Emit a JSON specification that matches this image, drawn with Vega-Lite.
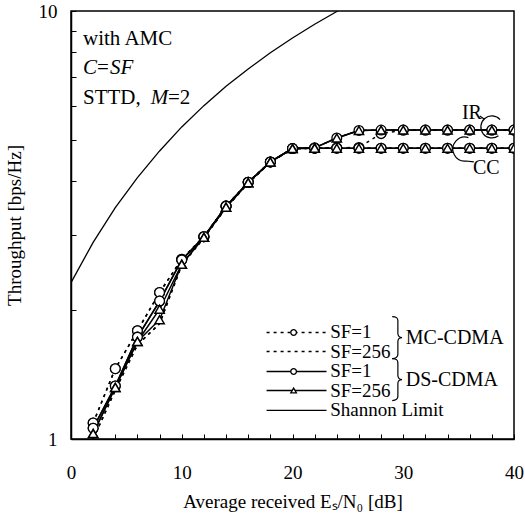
{
  "$schema": "https://vega.github.io/schema/vega-lite/v6.json",
  "width": 443,
  "height": 428,
  "autosize": {"type": "none"},
  "padding": {"left": 71, "top": 11, "right": 11, "bottom": 80},
  "background": "white",
  "config": {
    "view": {"stroke": "black", "strokeWidth": 1.5},
    "font": "Liberation Serif",
    "axis": {
      "grid": false,
      "domainColor": "black",
      "domainWidth": 1.5,
      "tickColor": "black",
      "tickWidth": 1,
      "labelColor": "black",
      "labelFont": "Liberation Serif",
      "labelFontSize": 19,
      "titleColor": "black",
      "titleFont": "Liberation Serif",
      "titleFontSize": 19,
      "titleFontWeight": "normal"
    }
  },
  "datasets": {
    "curves": [
      {"g": "Shannon", "x": 0, "y": 2.32}, {"g": "Shannon", "x": 2, "y": 2.88}, {"g": "Shannon", "x": 4, "y": 3.47},
      {"g": "Shannon", "x": 6, "y": 4.08}, {"g": "Shannon", "x": 8, "y": 4.71}, {"g": "Shannon", "x": 10, "y": 5.36},
      {"g": "Shannon", "x": 12, "y": 6.01}, {"g": "Shannon", "x": 14, "y": 6.67}, {"g": "Shannon", "x": 16, "y": 7.32},
      {"g": "Shannon", "x": 18, "y": 7.99}, {"g": "Shannon", "x": 20, "y": 8.65}, {"g": "Shannon", "x": 22, "y": 9.31},
      {"g": "Shannon", "x": 24, "y": 9.97}, {"g": "Shannon", "x": 26, "y": 10.64},

      {"g": "MC1-IR", "x": 2, "y": 1.09}, {"g": "MC1-IR", "x": 4, "y": 1.46}, {"g": "MC1-IR", "x": 6, "y": 1.79}, {"g": "MC1-IR", "x": 8, "y": 2.2},
      {"g": "MC1-IR", "x": 10, "y": 2.63}, {"g": "MC1-IR", "x": 12, "y": 2.97}, {"g": "MC1-IR", "x": 14, "y": 3.5}, {"g": "MC1-IR", "x": 16, "y": 3.98},
      {"g": "MC1-IR", "x": 18, "y": 4.44}, {"g": "MC1-IR", "x": 20, "y": 4.77}, {"g": "MC1-IR", "x": 22, "y": 4.78}, {"g": "MC1-IR", "x": 24, "y": 4.79},
      {"g": "MC1-IR", "x": 26, "y": 4.8}, {"g": "MC1-IR", "x": 28, "y": 5.17}, {"g": "MC1-IR", "x": 30, "y": 5.27}, {"g": "MC1-IR", "x": 32, "y": 5.27},
      {"g": "MC1-IR", "x": 34, "y": 5.27}, {"g": "MC1-IR", "x": 36, "y": 5.27}, {"g": "MC1-IR", "x": 38, "y": 5.27}, {"g": "MC1-IR", "x": 40, "y": 5.27},

      {"g": "MC1-CC", "x": 2, "y": 1.09}, {"g": "MC1-CC", "x": 4, "y": 1.46}, {"g": "MC1-CC", "x": 6, "y": 1.79}, {"g": "MC1-CC", "x": 8, "y": 2.2},
      {"g": "MC1-CC", "x": 10, "y": 2.63}, {"g": "MC1-CC", "x": 12, "y": 2.97}, {"g": "MC1-CC", "x": 14, "y": 3.5}, {"g": "MC1-CC", "x": 16, "y": 3.98},
      {"g": "MC1-CC", "x": 18, "y": 4.44}, {"g": "MC1-CC", "x": 20, "y": 4.77}, {"g": "MC1-CC", "x": 22, "y": 4.78}, {"g": "MC1-CC", "x": 24, "y": 4.78},
      {"g": "MC1-CC", "x": 26, "y": 4.78}, {"g": "MC1-CC", "x": 28, "y": 4.78}, {"g": "MC1-CC", "x": 30, "y": 4.78}, {"g": "MC1-CC", "x": 32, "y": 4.78},
      {"g": "MC1-CC", "x": 34, "y": 4.78}, {"g": "MC1-CC", "x": 36, "y": 4.78}, {"g": "MC1-CC", "x": 38, "y": 4.78}, {"g": "MC1-CC", "x": 40, "y": 4.78},

      {"g": "MC256-IR", "x": 2, "y": 1.0}, {"g": "MC256-IR", "x": 4, "y": 1.3}, {"g": "MC256-IR", "x": 6, "y": 1.66}, {"g": "MC256-IR", "x": 8, "y": 1.86},
      {"g": "MC256-IR", "x": 10, "y": 2.55}, {"g": "MC256-IR", "x": 12, "y": 2.95}, {"g": "MC256-IR", "x": 14, "y": 3.47}, {"g": "MC256-IR", "x": 16, "y": 3.96},
      {"g": "MC256-IR", "x": 18, "y": 4.43}, {"g": "MC256-IR", "x": 20, "y": 4.77}, {"g": "MC256-IR", "x": 22, "y": 4.79}, {"g": "MC256-IR", "x": 24, "y": 5.05},
      {"g": "MC256-IR", "x": 26, "y": 5.26}, {"g": "MC256-IR", "x": 28, "y": 5.27}, {"g": "MC256-IR", "x": 30, "y": 5.27}, {"g": "MC256-IR", "x": 32, "y": 5.27},
      {"g": "MC256-IR", "x": 34, "y": 5.27}, {"g": "MC256-IR", "x": 36, "y": 5.27}, {"g": "MC256-IR", "x": 38, "y": 5.27}, {"g": "MC256-IR", "x": 40, "y": 5.27},

      {"g": "MC256-CC", "x": 2, "y": 1.0}, {"g": "MC256-CC", "x": 4, "y": 1.3}, {"g": "MC256-CC", "x": 6, "y": 1.66}, {"g": "MC256-CC", "x": 8, "y": 1.86},
      {"g": "MC256-CC", "x": 10, "y": 2.55}, {"g": "MC256-CC", "x": 12, "y": 2.95}, {"g": "MC256-CC", "x": 14, "y": 3.47}, {"g": "MC256-CC", "x": 16, "y": 3.96},
      {"g": "MC256-CC", "x": 18, "y": 4.43}, {"g": "MC256-CC", "x": 20, "y": 4.77}, {"g": "MC256-CC", "x": 22, "y": 4.78}, {"g": "MC256-CC", "x": 24, "y": 4.78},
      {"g": "MC256-CC", "x": 26, "y": 4.78}, {"g": "MC256-CC", "x": 28, "y": 4.78}, {"g": "MC256-CC", "x": 30, "y": 4.78}, {"g": "MC256-CC", "x": 32, "y": 4.78},
      {"g": "MC256-CC", "x": 34, "y": 4.78}, {"g": "MC256-CC", "x": 36, "y": 4.78}, {"g": "MC256-CC", "x": 38, "y": 4.78}, {"g": "MC256-CC", "x": 40, "y": 4.78},

      {"g": "DS1-IR", "x": 2, "y": 1.06}, {"g": "DS1-IR", "x": 4, "y": 1.33}, {"g": "DS1-IR", "x": 6, "y": 1.73}, {"g": "DS1-IR", "x": 8, "y": 2.1},
      {"g": "DS1-IR", "x": 10, "y": 2.62}, {"g": "DS1-IR", "x": 12, "y": 2.97}, {"g": "DS1-IR", "x": 14, "y": 3.5}, {"g": "DS1-IR", "x": 16, "y": 3.98},
      {"g": "DS1-IR", "x": 18, "y": 4.44}, {"g": "DS1-IR", "x": 20, "y": 4.77}, {"g": "DS1-IR", "x": 22, "y": 4.79}, {"g": "DS1-IR", "x": 24, "y": 5.05},
      {"g": "DS1-IR", "x": 26, "y": 5.26}, {"g": "DS1-IR", "x": 28, "y": 5.27}, {"g": "DS1-IR", "x": 30, "y": 5.27}, {"g": "DS1-IR", "x": 32, "y": 5.27},
      {"g": "DS1-IR", "x": 34, "y": 5.27}, {"g": "DS1-IR", "x": 36, "y": 5.27}, {"g": "DS1-IR", "x": 38, "y": 5.27}, {"g": "DS1-IR", "x": 40, "y": 5.27},

      {"g": "DS1-CC", "x": 2, "y": 1.06}, {"g": "DS1-CC", "x": 4, "y": 1.33}, {"g": "DS1-CC", "x": 6, "y": 1.73}, {"g": "DS1-CC", "x": 8, "y": 2.1},
      {"g": "DS1-CC", "x": 10, "y": 2.62}, {"g": "DS1-CC", "x": 12, "y": 2.97}, {"g": "DS1-CC", "x": 14, "y": 3.5}, {"g": "DS1-CC", "x": 16, "y": 3.98},
      {"g": "DS1-CC", "x": 18, "y": 4.44}, {"g": "DS1-CC", "x": 20, "y": 4.77}, {"g": "DS1-CC", "x": 22, "y": 4.78}, {"g": "DS1-CC", "x": 24, "y": 4.78},
      {"g": "DS1-CC", "x": 26, "y": 4.78}, {"g": "DS1-CC", "x": 28, "y": 4.78}, {"g": "DS1-CC", "x": 30, "y": 4.78}, {"g": "DS1-CC", "x": 32, "y": 4.78},
      {"g": "DS1-CC", "x": 34, "y": 4.78}, {"g": "DS1-CC", "x": 36, "y": 4.78}, {"g": "DS1-CC", "x": 38, "y": 4.78}, {"g": "DS1-CC", "x": 40, "y": 4.78},

      {"g": "DS256-IR", "x": 2, "y": 1.03}, {"g": "DS256-IR", "x": 4, "y": 1.32}, {"g": "DS256-IR", "x": 6, "y": 1.69}, {"g": "DS256-IR", "x": 8, "y": 2.01},
      {"g": "DS256-IR", "x": 10, "y": 2.56}, {"g": "DS256-IR", "x": 12, "y": 2.96}, {"g": "DS256-IR", "x": 14, "y": 3.48}, {"g": "DS256-IR", "x": 16, "y": 3.97},
      {"g": "DS256-IR", "x": 18, "y": 4.44}, {"g": "DS256-IR", "x": 20, "y": 4.77}, {"g": "DS256-IR", "x": 22, "y": 4.79}, {"g": "DS256-IR", "x": 24, "y": 5.05},
      {"g": "DS256-IR", "x": 26, "y": 5.26}, {"g": "DS256-IR", "x": 28, "y": 5.27}, {"g": "DS256-IR", "x": 30, "y": 5.27}, {"g": "DS256-IR", "x": 32, "y": 5.27},
      {"g": "DS256-IR", "x": 34, "y": 5.27}, {"g": "DS256-IR", "x": 36, "y": 5.27}, {"g": "DS256-IR", "x": 38, "y": 5.27}, {"g": "DS256-IR", "x": 40, "y": 5.27},

      {"g": "DS256-CC", "x": 2, "y": 1.03}, {"g": "DS256-CC", "x": 4, "y": 1.32}, {"g": "DS256-CC", "x": 6, "y": 1.69}, {"g": "DS256-CC", "x": 8, "y": 1.9},
      {"g": "DS256-CC", "x": 10, "y": 2.56}, {"g": "DS256-CC", "x": 12, "y": 2.96}, {"g": "DS256-CC", "x": 14, "y": 3.48}, {"g": "DS256-CC", "x": 16, "y": 3.97},
      {"g": "DS256-CC", "x": 18, "y": 4.44}, {"g": "DS256-CC", "x": 20, "y": 4.77}, {"g": "DS256-CC", "x": 22, "y": 4.78}, {"g": "DS256-CC", "x": 24, "y": 4.78},
      {"g": "DS256-CC", "x": 26, "y": 4.78}, {"g": "DS256-CC", "x": 28, "y": 4.78}, {"g": "DS256-CC", "x": 30, "y": 4.78}, {"g": "DS256-CC", "x": 32, "y": 4.78},
      {"g": "DS256-CC", "x": 34, "y": 4.78}, {"g": "DS256-CC", "x": 36, "y": 4.78}, {"g": "DS256-CC", "x": 38, "y": 4.78}, {"g": "DS256-CC", "x": 40, "y": 4.78}
    ],
    "legend": [
      {"k": "MC1", "x": 17.66, "x2": 23.07, "xm": 20.1, "xt": 23.4, "y": 1.774, "t": "SF=1"},
      {"k": "MC256", "x": 17.66, "x2": 23.07, "xm": 20.1, "xt": 23.4, "y": 1.601, "t": "SF=256"},
      {"k": "DS1", "x": 17.66, "x2": 23.07, "xm": 20.1, "xt": 23.4, "y": 1.438, "t": "SF=1"},
      {"k": "DS256", "x": 17.66, "x2": 23.07, "xm": 20.1, "xt": 23.4, "y": 1.298, "t": "SF=256"},
      {"k": "Shannon", "x": 17.66, "x2": 23.07, "xm": 20.1, "xt": 23.4, "y": 1.166, "t": "Shannon Limit"}
    ],
    "braces": [
      {"x": 29.42, "y": 1.726, "xt": 30.23, "t": "MC-CDMA"},
      {"x": 29.42, "y": 1.377, "xt": 30.23, "t": "DS-CDMA"}
    ],
    "notes": [
      {"x": 1.08, "y": 8.35, "t": "with AMC", "it": false},
      {"x": 1.08, "y": 7.14, "t": "C", "it": true},
      {"x": 2.35, "y": 7.14, "t": "=", "it": false},
      {"x": 3.52, "y": 7.14, "t": "SF", "it": true},
      {"x": 1.08, "y": 6.05, "t": "STTD,", "it": false},
      {"x": 7.2, "y": 6.05, "t": "M", "it": true},
      {"x": 8.75, "y": 6.05, "t": "=2", "it": false}
    ],
    "labels": [
      {"x": 36.2, "y": 5.79, "t": "IR"},
      {"x": 37.5, "y": 4.3, "t": "CC"}
    ],
    "arcs": [
      {"k": "IR", "x": 38.0, "y": 5.36},
      {"k": "CC", "x": 35.56, "y": 4.76}
    ]
  },
  "encoding": {
    "x": {
      "field": "x", "type": "quantitative",
      "scale": {"domain": [0, 40], "nice": false, "zero": false},
      "axis": {
        "values": [0, 2, 4, 6, 8, 10, 12, 14, 16, 18, 20, 22, 24, 26, 28, 30, 32, 34, 36, 38, 40],
        "labelExpr": "datum.value % 10 === 0 ? format(datum.value, 'd') : ''",
        "tickSize": -5,
        "labelPadding": 29,
        "labelFlush": false,
        "labelOverlap": false,
        "title": "Average received Eₛ/N₀  [dB]",
        "titlePadding": 10
      }
    },
    "y": {
      "field": "y", "type": "quantitative",
      "scale": {"type": "log", "domain": [1, 10], "nice": false},
      "axis": {
        "values": [1, 2, 3, 4, 5, 6, 7, 8, 9, 10],
        "labelExpr": "datum.value == 1 || datum.value == 10 ? format(datum.value, 'd') : ''",
        "tickSize": -5,
        "labelPadding": 19,
        "labelOverlap": false,
        "title": "Throughput [bps/Hz]",
        "titlePadding": 14
      }
    }
  },
  "layer": [
    {
      "data": {"name": "curves"},
      "transform": [{"filter": "datum.g == 'Shannon'"}],
      "mark": {"type": "line", "stroke": "black", "strokeWidth": 1.3, "clip": true},
      "encoding": {"detail": {"field": "g"}}
    },
    {
      "data": {"name": "curves"},
      "transform": [{"filter": "indexof(datum.g, 'MC') == 0"}],
      "mark": {"type": "line", "stroke": "black", "strokeWidth": 1.5, "strokeDash": [3, 4], "clip": true},
      "encoding": {"detail": {"field": "g"}}
    },
    {
      "data": {"name": "curves"},
      "transform": [{"filter": "indexof(datum.g, 'DS') == 0"}],
      "mark": {"type": "line", "stroke": "black", "strokeWidth": 1.5, "clip": true},
      "encoding": {"detail": {"field": "g"}}
    },
    {
      "data": {"name": "curves"},
      "transform": [{"filter": "indexof(datum.g, 'MC1-') == 0 || indexof(datum.g, 'DS1-') == 0"}],
      "mark": {"type": "point", "shape": "circle", "size": 95, "filled": true, "fill": "white", "stroke": "black", "strokeWidth": 1.3, "opacity": 1, "clip": true}
    },
    {
      "data": {"name": "curves"},
      "transform": [{"filter": "indexof(datum.g, 'DS256') == 0"}],
      "mark": {"type": "point", "shape": "triangle-up", "size": 85, "filled": true, "fill": "white", "stroke": "black", "strokeWidth": 1.5, "opacity": 1, "clip": true}
    },
    {
      "data": {"name": "legend"},
      "transform": [{"filter": "indexof(datum.k, 'MC') == 0"}],
      "mark": {"type": "rule", "stroke": "black", "strokeWidth": 1.5, "strokeDash": [3, 4]},
      "encoding": {"x2": {"field": "x2"}}
    },
    {
      "data": {"name": "legend"},
      "transform": [{"filter": "indexof(datum.k, 'MC') != 0"}],
      "mark": {"type": "rule", "stroke": "black", "strokeWidth": 1.3},
      "encoding": {"x2": {"field": "x2"}}
    },
    {
      "data": {"name": "legend"},
      "transform": [{"filter": "datum.k == 'MC1' || datum.k == 'DS1'"}],
      "mark": {"type": "point", "shape": "circle", "size": 32, "filled": true, "fill": "white", "stroke": "black", "strokeWidth": 1.3, "opacity": 1},
      "encoding": {"x": {"field": "xm", "type": "quantitative"}}
    },
    {
      "data": {"name": "legend"},
      "transform": [{"filter": "datum.k == 'DS256'"}],
      "mark": {"type": "point", "shape": "triangle-up", "size": 32, "filled": true, "fill": "white", "stroke": "black", "strokeWidth": 1.3, "opacity": 1},
      "encoding": {"x": {"field": "xm", "type": "quantitative"}}
    },
    {
      "data": {"name": "legend"},
      "mark": {"type": "text", "align": "left", "baseline": "middle", "font": "Liberation Serif", "fontSize": 19, "color": "black"},
      "encoding": {"x": {"field": "xt", "type": "quantitative"}, "text": {"field": "t"}}
    },
    {
      "data": {"name": "braces"},
      "mark": {"type": "point", "shape": "M -0.22 -1 Q 0.05 -1 0.05 -0.8 L 0.05 -0.2 Q 0.05 0 0.25 0 Q 0.05 0 0.05 0.2 L 0.05 0.8 Q 0.05 1 -0.22 1", "size": 1764, "filled": false, "stroke": "black", "strokeWidth": 1.2, "opacity": 1}
    },
    {
      "data": {"name": "braces"},
      "mark": {"type": "text", "align": "left", "baseline": "middle", "font": "Liberation Serif", "fontSize": 20, "color": "black"},
      "encoding": {"x": {"field": "xt", "type": "quantitative"}, "text": {"field": "t"}}
    },
    {
      "data": {"name": "notes"},
      "transform": [{"filter": "!datum.it"}],
      "mark": {"type": "text", "align": "left", "baseline": "alphabetic", "font": "Liberation Serif", "fontSize": 21, "color": "black"},
      "encoding": {"text": {"field": "t"}}
    },
    {
      "data": {"name": "notes"},
      "transform": [{"filter": "datum.it"}],
      "mark": {"type": "text", "align": "left", "baseline": "alphabetic", "font": "Liberation Serif", "fontSize": 21, "fontStyle": "italic", "color": "black"},
      "encoding": {"text": {"field": "t"}}
    },
    {
      "data": {"name": "labels"},
      "mark": {"type": "text", "align": "center", "baseline": "middle", "font": "Liberation Serif", "fontSize": 20, "color": "black"},
      "encoding": {"text": {"field": "t"}}
    },
    {
      "data": {"name": "arcs"},
      "transform": [{"filter": "datum.k == 'IR'"}],
      "mark": {"type": "point", "shape": "M 0.75 -0.66 A 1 1 0 1 0 0.6 0.8 M -0.7 -0.72 L -1.1 -1.0", "size": 484, "filled": false, "stroke": "black", "strokeWidth": 1.2, "opacity": 1}
    },
    {
      "data": {"name": "arcs"},
      "transform": [{"filter": "datum.k == 'CC'"}],
      "mark": {"type": "point", "shape": "M 0.3 -0.95 A 1 1 0 1 0 0.1 1 L 0.75 1.08", "size": 576, "filled": false, "stroke": "black", "strokeWidth": 1.2, "opacity": 1}
    }
  ]
}
